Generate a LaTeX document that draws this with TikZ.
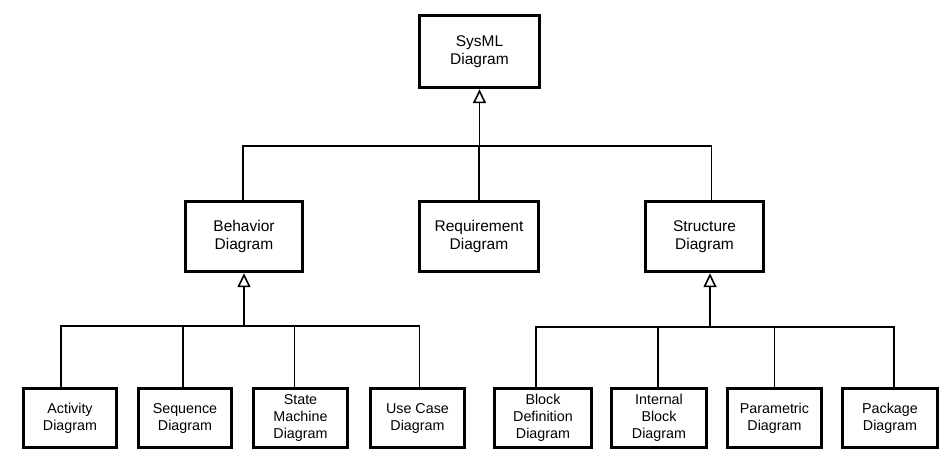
\documentclass[tikz,border=0pt]{standalone}
\usepackage{fontspec}
\setmainfont{Liberation Sans}
\usetikzlibrary{arrows.meta}
\begin{document}
\begin{tikzpicture}[x=1pt,y=-1pt,
  diag/.style={draw, line width=3.4pt, align=center, inner sep=1pt},
  upper/.style={diag, font=\fontsize{15.5}{18}\selectfont},
  lower/.style={diag, font=\fontsize{14.3}{17}\selectfont, minimum height=59pt},
  conn/.style={line width=1.6pt},
  gen/.style={conn, -{Triangle[open, length=14pt, width=13pt, line width=1.6pt]}}]
\useasboundingbox (0,0) rectangle (945,459);
\node[upper, minimum width=120pt, minimum height=72pt] (sysml) at (479.5,51.5) {SysML\\Diagram};
\node[upper, minimum width=117pt, minimum height=70pt] (beh) at (244,236.5) {Behavior\\Diagram};
\node[upper, minimum width=119pt, minimum height=70pt] (req) at (479,236.5) {Requirement\\Diagram};
\node[upper, minimum width=118pt, minimum height=70pt] (str) at (704.5,236.5) {Structure\\Diagram};
\node[lower, minimum width=93pt] (act) at (70,418) {Activity\\Diagram};
\node[lower, minimum width=93pt] (seq) at (185,418) {Sequence\\Diagram};
\node[lower, minimum width=94pt] (sm) at (300.5,418) {State\\Machine\\Diagram};
\node[lower, minimum width=94pt] (uc) at (417.5,418) {Use Case\\Diagram};
\node[lower, minimum width=97pt] (bdd) at (543,418) {Block\\Definition\\Diagram};
\node[lower, minimum width=95pt] (ibd) at (659,418) {Internal\\Block\\Diagram};
\node[lower, minimum width=94pt] (par) at (774.5,418) {Parametric\\Diagram};
\node[lower, minimum width=95pt] (pkg) at (890,418) {Package\\Diagram};
% top level
\coordinate (tj) at (479.5,146);
\draw[gen] (tj) -- (sysml.south);
\draw[conn] ([xshift=-1pt]beh.north) |- (tj);
\draw[conn] (req.north) |- (tj);
\draw[conn] ([xshift=7pt]str.north) |- (tj);
% behavior
\coordinate (bj) at (244,326);
\draw[gen] (bj) -- (beh.south);
\draw[conn] ([xshift=-9pt]act.north) |- (bj);
\draw[conn] ([xshift=-2pt]seq.north) |- (bj);
\draw[conn] ([xshift=-6pt]sm.north) |- (bj);
\draw[conn] ([xshift=2pt]uc.north) |- (bj);
% structure
\coordinate (sj) at (710,327);
\draw[gen] (sj) -- ([xshift=5.5pt]str.south);
\draw[conn] ([xshift=-7pt]bdd.north) |- (sj);
\draw[conn] ([xshift=-1pt]ibd.north) |- (sj);
\draw[conn] (par.north) |- (sj);
\draw[conn] ([xshift=4pt]pkg.north) |- (sj);
\end{tikzpicture}
\end{document}
